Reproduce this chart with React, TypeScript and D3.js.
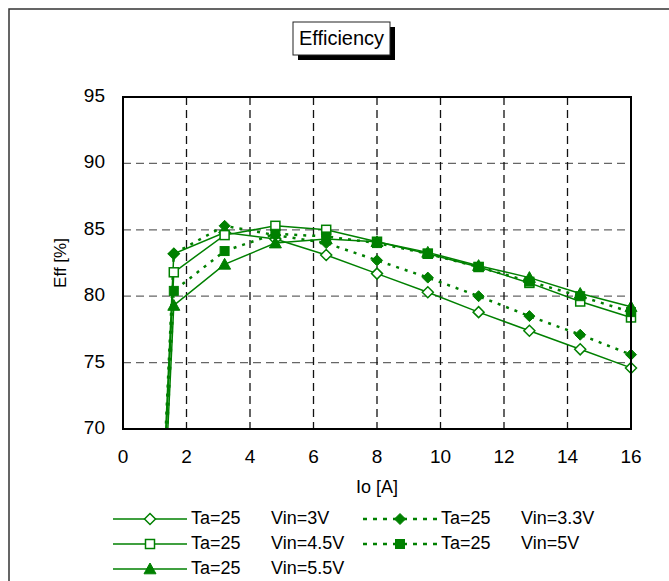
import React from "react";
import * as d3 from "d3";

// Io [A] sample points (first point is the origin, clipped away below 70%)
const ioValues = [0, 1.6, 3.2, 4.8, 6.4, 8, 9.6, 11.2, 12.8, 14.4, 16];

const effVin3 = [0, 83.2, 84.8, 84.3, 83.1, 81.7, 80.3, 78.8, 77.4, 76.0, 74.6];
const effVin33 = [0, 83.2, 85.3, 84.6, 84.0, 82.7, 81.4, 80.0, 78.5, 77.1, 75.6];
const effVin45 = [0, 81.8, 84.6, 85.3, 85.0, 84.1, 83.2, 82.2, 81.0, 79.6, 78.4];
const effVin5 = [0, 80.4, 83.4, 84.7, 84.5, 84.0, 83.2, 82.2, 81.1, 80.0, 78.8];
const effVin55 = [0, 79.3, 82.4, 84.0, 84.3, 84.1, 83.3, 82.3, 81.4, 80.2, 79.2];

const seriesNames = ["Vin=3V", "Vin=3.3V", "Vin=4.5V", "Vin=5V", "Vin=5.5V"];
const seriesValues = [effVin3, effVin33, effVin45, effVin5, effVin55];
const seriesMarkers = ["diamondOpen", "diamond", "squareOpen", "square", "triangle"];
const seriesDotted = [false, true, false, true, false];

const xTicks = [0, 2, 4, 6, 8, 10, 12, 14, 16];
const yTicks = [70, 75, 80, 85, 90, 95];

const GREEN = "#008000";
const FONT = "'Liberation Sans', Arial, sans-serif";

const Marker = ({ kind, x, y }: { kind: string; x: number; y: number }) => {
  if (kind === "diamondOpen" || kind === "diamond") {
    const r = 5.5;
    return (
      <path
        d={`M${x},${y - r}L${x + r},${y}L${x},${y + r}L${x - r},${y}Z`}
        fill={kind === "diamond" ? GREEN : "white"}
        stroke={GREEN}
        strokeWidth={kind === "diamond" ? 1 : 1.5}
      />
    );
  }
  if (kind === "squareOpen" || kind === "square") {
    const r = 4.5;
    return (
      <rect
        x={x - r}
        y={y - r}
        width={2 * r}
        height={2 * r}
        fill={kind === "square" ? GREEN : "white"}
        stroke={GREEN}
        strokeWidth={kind === "square" ? 1 : 1.5}
      />
    );
  }
  const r = 6;
  return (
    <path
      d={`M${x},${y - r}L${x + r},${y + r * 0.8}L${x - r},${y + r * 0.8}Z`}
      fill={GREEN}
      stroke={GREEN}
    />
  );
};

export default function App() {
  const width = 669;
  const height = 581;
  const left = 123;
  const right = 631;
  const top = 97;
  const bottom = 429;

  const x = d3.scaleLinear().domain([0, 16]).range([left, right]);
  const y = d3.scaleLinear().domain([70, 95]).range([bottom, top]);

  const line = d3
    .line<number>()
    .x((_, i) => x(ioValues[i]))
    .y((d) => y(d));

  return (
    <svg
      width={width}
      height={height}
      style={{ position: "absolute", left: 0, top: 0, fontFamily: FONT }}
    >
      <defs>
        <clipPath id="plotClip">
          <rect x={left - 10} y={top} width={right - left + 20} height={bottom - top} />
        </clipPath>
      </defs>
      <rect width={width} height={height} fill="white" />
      {/* outer frame */}
      <path d={`M9,${height}V9H${width}`} fill="none" stroke="#333" strokeWidth={1.5} />

      {/* title */}
      <rect x={298} y={27} width={97} height={33} fill="black" />
      <rect x={293} y={22} width={97} height={33} fill="white" stroke="#222" strokeWidth={1} />
      <text x={341.5} y={39.5} fontSize={20} textAnchor="middle" dominantBaseline="middle">
        Efficiency
      </text>

      {/* grid */}
      {yTicks.slice(1, -1).map((t) => (
        <line
          key={"gy" + t}
          x1={left}
          x2={right}
          y1={y(t)}
          y2={y(t)}
          stroke="#666"
          strokeWidth={1.3}
          strokeDasharray="8,5"
        />
      ))}
      {xTicks.slice(1, -1).map((t) => (
        <line
          key={"gx" + t}
          x1={x(t)}
          x2={x(t)}
          y1={top}
          y2={bottom}
          stroke="#111"
          strokeWidth={1.3}
          strokeDasharray="8,5"
        />
      ))}

      {/* series */}
      <g clipPath="url(#plotClip)">
        {seriesValues.map((vals, si) => (
          <path
            key={"l" + si}
            d={line(vals) || ""}
            fill="none"
            stroke={GREEN}
            strokeWidth={seriesDotted[si] ? 2.5 : 1.5}
            strokeDasharray={seriesDotted[si] ? "3,6" : undefined}
          />
        ))}
      </g>
      {seriesValues.map((vals, si) =>
        vals.map((v, i) =>
          v >= 70 ? (
            <Marker key={`m${si}-${i}`} kind={seriesMarkers[si]} x={x(ioValues[i])} y={y(v)} />
          ) : null
        )
      )}

      {/* plot border */}
      <rect x={left} y={top} width={right - left} height={bottom - top} fill="none" stroke="black" strokeWidth={2} />

      {/* axes labels */}
      {yTicks.map((t) => (
        <text key={"ty" + t} x={left - 18} y={y(t)} fontSize={19} textAnchor="end" dominantBaseline="middle">
          {t}
        </text>
      ))}
      {xTicks.map((t) => (
        <text key={"tx" + t} x={x(t)} y={bottom + 29} fontSize={19} textAnchor="middle" dominantBaseline="middle">
          {t}
        </text>
      ))}
      <text
        transform={`translate(62,${(top + bottom) / 2}) rotate(-90)`}
        fontSize={17}
        textAnchor="middle"
        dominantBaseline="middle"
      >
        Eff [%]
      </text>
      <text x={(left + right) / 2} y={488} fontSize={18} textAnchor="middle" dominantBaseline="middle">
        Io [A]
      </text>

      {/* legend */}
      {seriesNames.map((name, si) => {
        const col = si % 2;
        const row = Math.floor(si / 2);
        const lx = col === 0 ? 113 : 363;
        const ly = 519 + row * 25;
        return (
          <g key={"lg" + si}>
            <line
              x1={lx}
              x2={lx + 74}
              y1={ly}
              y2={ly}
              stroke={GREEN}
              strokeWidth={seriesDotted[si] ? 2.5 : 1.5}
              strokeDasharray={seriesDotted[si] ? "4,6" : undefined}
            />
            <Marker kind={seriesMarkers[si]} x={lx + 37} y={ly} />
            <text x={lx + 78} y={ly} fontSize={18} dominantBaseline="middle">
              Ta=25
            </text>
            <text x={lx + 158} y={ly} fontSize={18} dominantBaseline="middle">
              {name}
            </text>
          </g>
        );
      })}
    </svg>
  );
}
